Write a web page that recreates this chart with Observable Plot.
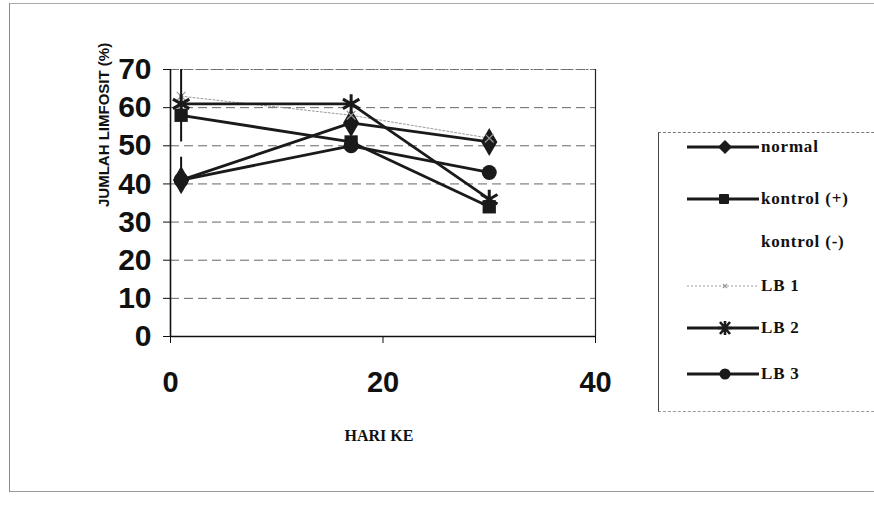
<!DOCTYPE html>
<html>
<head>
<meta charset="utf-8">
<script src="https://cdn.jsdelivr.net/npm/d3@7"></script>
<script src="https://cdn.jsdelivr.net/npm/@observablehq/plot@0.6"></script>
<style>
  html, body { margin: 0; padding: 0; background: #fff; }
  #wrap { position: relative; width: 874px; height: 509px; overflow: hidden; }
  #outer { position: absolute; left: 9px; top: 3px; width: 870px; height: 487px; border-left: 1px solid #888; border-top: 1px solid #aaa; border-bottom: 1px solid #999; }
  #legend { position: absolute; left: 658px; top: 132px; width: 240px; height: 278px; border-left: 1px solid #444; border-top: 1px dashed #777; border-bottom: 1px dashed #999; font-family: "Liberation Serif", "DejaVu Serif", serif; font-size: 17px; font-weight: bold; color: #111; }
  .item { position: absolute; left: 28px; height: 20px; display: flex; align-items: center; }
  .item svg { flex: none; }
  .item span { margin-left: 2px; letter-spacing: 0.8px; }
</style>
</head>
<body>
<div id="wrap">
  <div id="outer"></div>
  <div id="chart"></div>
  <div id="legend"></div>
</div>
<script>
// ---- data ----
const days = [1, 17, 30];
const seriesNames = ["normal", "kontrol (+)", "kontrol (-)", "LB 1", "LB 2", "LB 3"];
const normal = [41, 56, 51];
const kontrolPlus = [58, 51, 34];
const kontrolMinus = []; // not visible in the chart
const lb1 = [63, 58, 52];
const lb2 = [61, 61, 36];
const lb3 = [41, 50, 43];
// vertical bars seen at day 1
const barDay = [1, 1];
const barLow = [51, 41];
const barHigh = [70, 47];
const yTicks = [0, 10, 20, 30, 40, 50, 60, 70];
const xTicks = [0, 20, 40];

const seriesValues = [normal, kontrolPlus, kontrolMinus, lb1, lb2, lb3];
const style = {
  "normal":      {symbol: "diamond", r: 8.5, stroke: "#1a1a1a", width: 2.8, dash: null, fill: "#1a1a1a"},
  "kontrol (+)": {symbol: "square",  r: 7.5, stroke: "#1a1a1a", width: 2.8, dash: null, fill: "#1a1a1a"},
  "kontrol (-)": {symbol: "circle",  r: 0,   stroke: "none",    width: 0,   dash: null, fill: "none"},
  "LB 1":        {symbol: "times",   r: 4,   stroke: "#9a9a9a", width: 1,   dash: "2,2", fill: "#9a9a9a"},
  "LB 2":        {symbol: "asterisk",r: 9,   stroke: "#1a1a1a", width: 2.8, dash: null, fill: "#1a1a1a"},
  "LB 3":        {symbol: "circle",  r: 7.5, stroke: "#1a1a1a", width: 2.8, dash: null, fill: "#1a1a1a"}
};

const rows = [];
seriesNames.forEach((name, i) => {
  seriesValues[i].forEach((v, j) => rows.push({series: name, day: days[j], value: v}));
});
const bars = barDay.map((d, i) => ({day: d, low: barLow[i], high: barHigh[i]}));

const lineMarks = [];
const dotMarks = [];
seriesNames.forEach(name => {
  const s = style[name];
  const data = rows.filter(d => d.series === name);
  if (!data.length) return;
  lineMarks.push(Plot.line(data, {x: "day", y: "value", stroke: s.stroke, strokeWidth: s.width, strokeDasharray: s.dash}));
  const isStroke = s.symbol === "asterisk" || s.symbol === "times";
  dotMarks.push(Plot.dot(data, {
    x: "day", y: "value", symbol: () => s.symbol, r: s.r,
    fill: isStroke ? "none" : s.fill,
    stroke: isStroke ? s.stroke : "none",
    strokeWidth: isStroke ? (name === "LB 2" ? 3 : 1.2) : 0
  }));
});

const chart = Plot.plot({
  width: 874,
  height: 509,
  marginLeft: 170,
  marginRight: 279,
  marginTop: 69,
  marginBottom: 173,
  style: {background: "transparent", overflow: "visible"},
  x: {domain: [0, 40]},
  y: {domain: [0, 70]},
  symbol: {type: "identity"},
  marks: [
    Plot.gridY({ticks: yTicks.filter(t => t > 0), stroke: "#666", strokeOpacity: 1, strokeWidth: 1, strokeDasharray: "9,5"}),
    Plot.frame({stroke: "#777", strokeDasharray: "3,2", strokeWidth: 1}),
    Plot.ruleX([0], {stroke: "#111", strokeWidth: 1.6}),
    Plot.ruleY([0], {stroke: "#111", strokeWidth: 1.4}),
    Plot.ruleX([40], {stroke: "#222", strokeWidth: 1.2}),
    Plot.axisY({ticks: yTicks, tickSize: 7, tickPadding: 12, label: null,
      fontSize: 30, fontWeight: "bold", fontFamily: "Liberation Sans, Arial, sans-serif", fill: "#111", stroke: "#111"}),
    Plot.axisX({ticks: xTicks, tickSize: 7, tickPadding: 28, label: null,
      fontSize: 29, fontWeight: "bold", fontFamily: "Liberation Sans, Arial, sans-serif", fill: "#111", stroke: "#111"}),
    Plot.text(["JUMLAH LIMFOSIT (%)"], {frameAnchor: "left", dx: -66, dy: 4, rotate: -90,
      fontSize: 15, fontWeight: "bold", fontFamily: "Liberation Sans, Arial, sans-serif", fill: "#111"}),
    Plot.text(["HARI KE"], {frameAnchor: "bottom", dx: -4, dy: 104,
      fontSize: 16, fontWeight: "bold", fontFamily: "Liberation Serif, Times New Roman, serif", fill: "#111",
      style: "letter-spacing: 2px"}),
    Plot.ruleX(bars, {x: "day", y1: "low", y2: "high", stroke: "#111", strokeWidth: 2}),
    ...lineMarks,
    ...dotMarks
  ]
});
document.getElementById("chart").appendChild(chart);

// ---- legend ----
const legendY = [14, 66, 109, 153, 195, 241];
const markerSvg = {
  "normal": '<path d="M38 3 L45 10 L38 17 L31 10 Z" fill="#1a1a1a"/>',
  "kontrol (+)": '<rect x="32" y="5" width="10" height="10" rx="1" fill="#1a1a1a"/>',
  "kontrol (-)": '',
  "LB 1": '<path d="M36 8 L40 12 M40 8 L36 12" stroke="#999" stroke-width="1.2"/>',
  "LB 2": '<path d="M31 10 L45 10 M33 4 L43 16 M43 4 L33 16 M38 3 L38 17" stroke="#1a1a1a" stroke-width="2.6"/>',
  "LB 3": '<circle cx="38" cy="10" r="5.5" fill="#1a1a1a"/>'
};
const legend = document.getElementById("legend");
seriesNames.forEach((name, i) => {
  const s = style[name];
  const item = document.createElement("div");
  item.className = "item";
  item.style.top = (legendY[i] - 10) + "px";
  const lineEl = s.stroke === "none" ? "" :
    `<line x1="0" y1="10" x2="72" y2="10" stroke="${s.stroke}" stroke-width="${s.width}" ${s.dash ? `stroke-dasharray="${s.dash}"` : ""}/>`;
  item.innerHTML = `<svg width="72" height="20" viewBox="0 0 72 20">${lineEl}${markerSvg[name]}</svg><span>${name}</span>`;
  if (name === "kontrol (-)") item.querySelector("svg").style.visibility = "hidden";
  legend.appendChild(item);
});
</script>
</body>
</html>
